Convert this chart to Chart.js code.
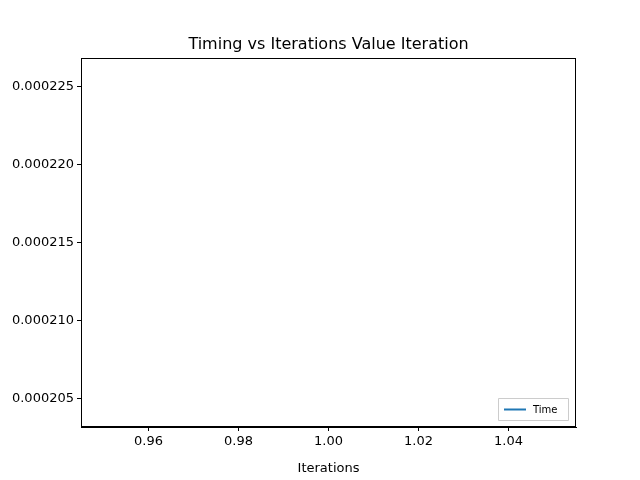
<!DOCTYPE html>
<html><head><meta charset="utf-8">
<script src="https://cdn.jsdelivr.net/npm/chart.js@4/dist/chart.umd.min.js"></script>
<style>html,body{margin:0;padding:0;background:#fff}#c{display:block}</style>
</head><body>
<canvas id="c" width="640" height="480"></canvas>
<script>
const iterations = [1];
const times = [0.000215];
const xTicks = [0.96, 0.98, 1.00, 1.02, 1.04];
const yTicks = [0.000205, 0.000210, 0.000215, 0.000220, 0.000225];
const xRange = [0.945, 1.055];
const yRange = [0.0002032, 0.0002268];
const FONT = "'DejaVu Sans', sans-serif";

const frame = {
  id: 'frame',
  afterDraw(chart) {
    const {ctx, chartArea: a} = chart;
    ctx.save();
    ctx.strokeStyle = '#000'; ctx.lineWidth = 1;
    ctx.strokeRect(a.left + 0.5, a.top + 0.5, a.right - a.left - 1, a.bottom - a.top - 1);
    ctx.fillStyle = '#000';
    ctx.font = '16px ' + FONT; ctx.textAlign = 'center'; ctx.textBaseline = 'alphabetic';
    ctx.fillText('Timing vs Iterations Value Iteration', (a.left + a.right) / 2, 49);
    // legend
    const w = 70, h = 22, x = a.right - 8 - w, y = a.bottom - 7 - h;
    ctx.strokeStyle = '#ccc'; ctx.fillStyle = 'rgba(255,255,255,0.8)';
    ctx.beginPath(); ctx.rect(x + 0.5, y + 0.5, w, h); ctx.fill(); ctx.stroke();
    ctx.strokeStyle = '#1f77b4'; ctx.lineWidth = 2;
    ctx.beginPath(); ctx.moveTo(x + 6, y + h / 2 + 0.5); ctx.lineTo(x + 28, y + h / 2 + 0.5); ctx.stroke();
    ctx.fillStyle = '#000'; ctx.font = '10px ' + FONT; ctx.textAlign = 'left'; ctx.textBaseline = 'middle';
    ctx.fillText(chart.data.datasets[0].label, x + 35, y + h / 2 + 1);
    ctx.restore();
  }
};

new Chart(document.getElementById('c'), {
  type: 'line',
  data: { datasets: [{ label: 'Time', data: iterations.map((x, i) => ({x, y: times[i]})),
    borderColor: '#1f77b4', borderWidth: 1.5, pointRadius: 0 }] },
  options: {
    responsive: false, animation: false, devicePixelRatio: 1,
    layout: { padding: { top: 58, right: 64, left: 0, bottom: 0 } },
    plugins: { legend: { display: false }, title: { display: false }, tooltip: { enabled: false } },
    scales: {
      x: { type: 'linear', min: xRange[0], max: xRange[1],
        afterBuildTicks: s => { s.ticks = xTicks.map(v => ({value: v})); },
        afterFit: s => { s.height = 53; },
        grid: { drawOnChartArea: false, drawTicks: true, tickLength: 4, color: '#000' },
        border: { color: '#000' },
        ticks: { color: '#000', font: { size: 13, family: FONT }, padding: 3, maxRotation: 0,
          callback: v => v.toFixed(2) },
        title: { display: true, text: 'Iterations', color: '#000', font: { size: 13, family: FONT }, padding: { top: 2 } } },
      y: { type: 'linear', min: yRange[0], max: yRange[1],
        afterBuildTicks: s => { s.ticks = yTicks.map(v => ({value: v})); },
        afterFit: s => { s.width = 81; },
        grid: { drawOnChartArea: false, drawTicks: true, tickLength: 4, color: '#000' },
        border: { color: '#000' },
        ticks: { color: '#000', font: { size: 13, family: FONT }, padding: 3,
          callback: v => v.toFixed(6) } }
    }
  },
  plugins: [frame]
});
</script>
</body></html>
